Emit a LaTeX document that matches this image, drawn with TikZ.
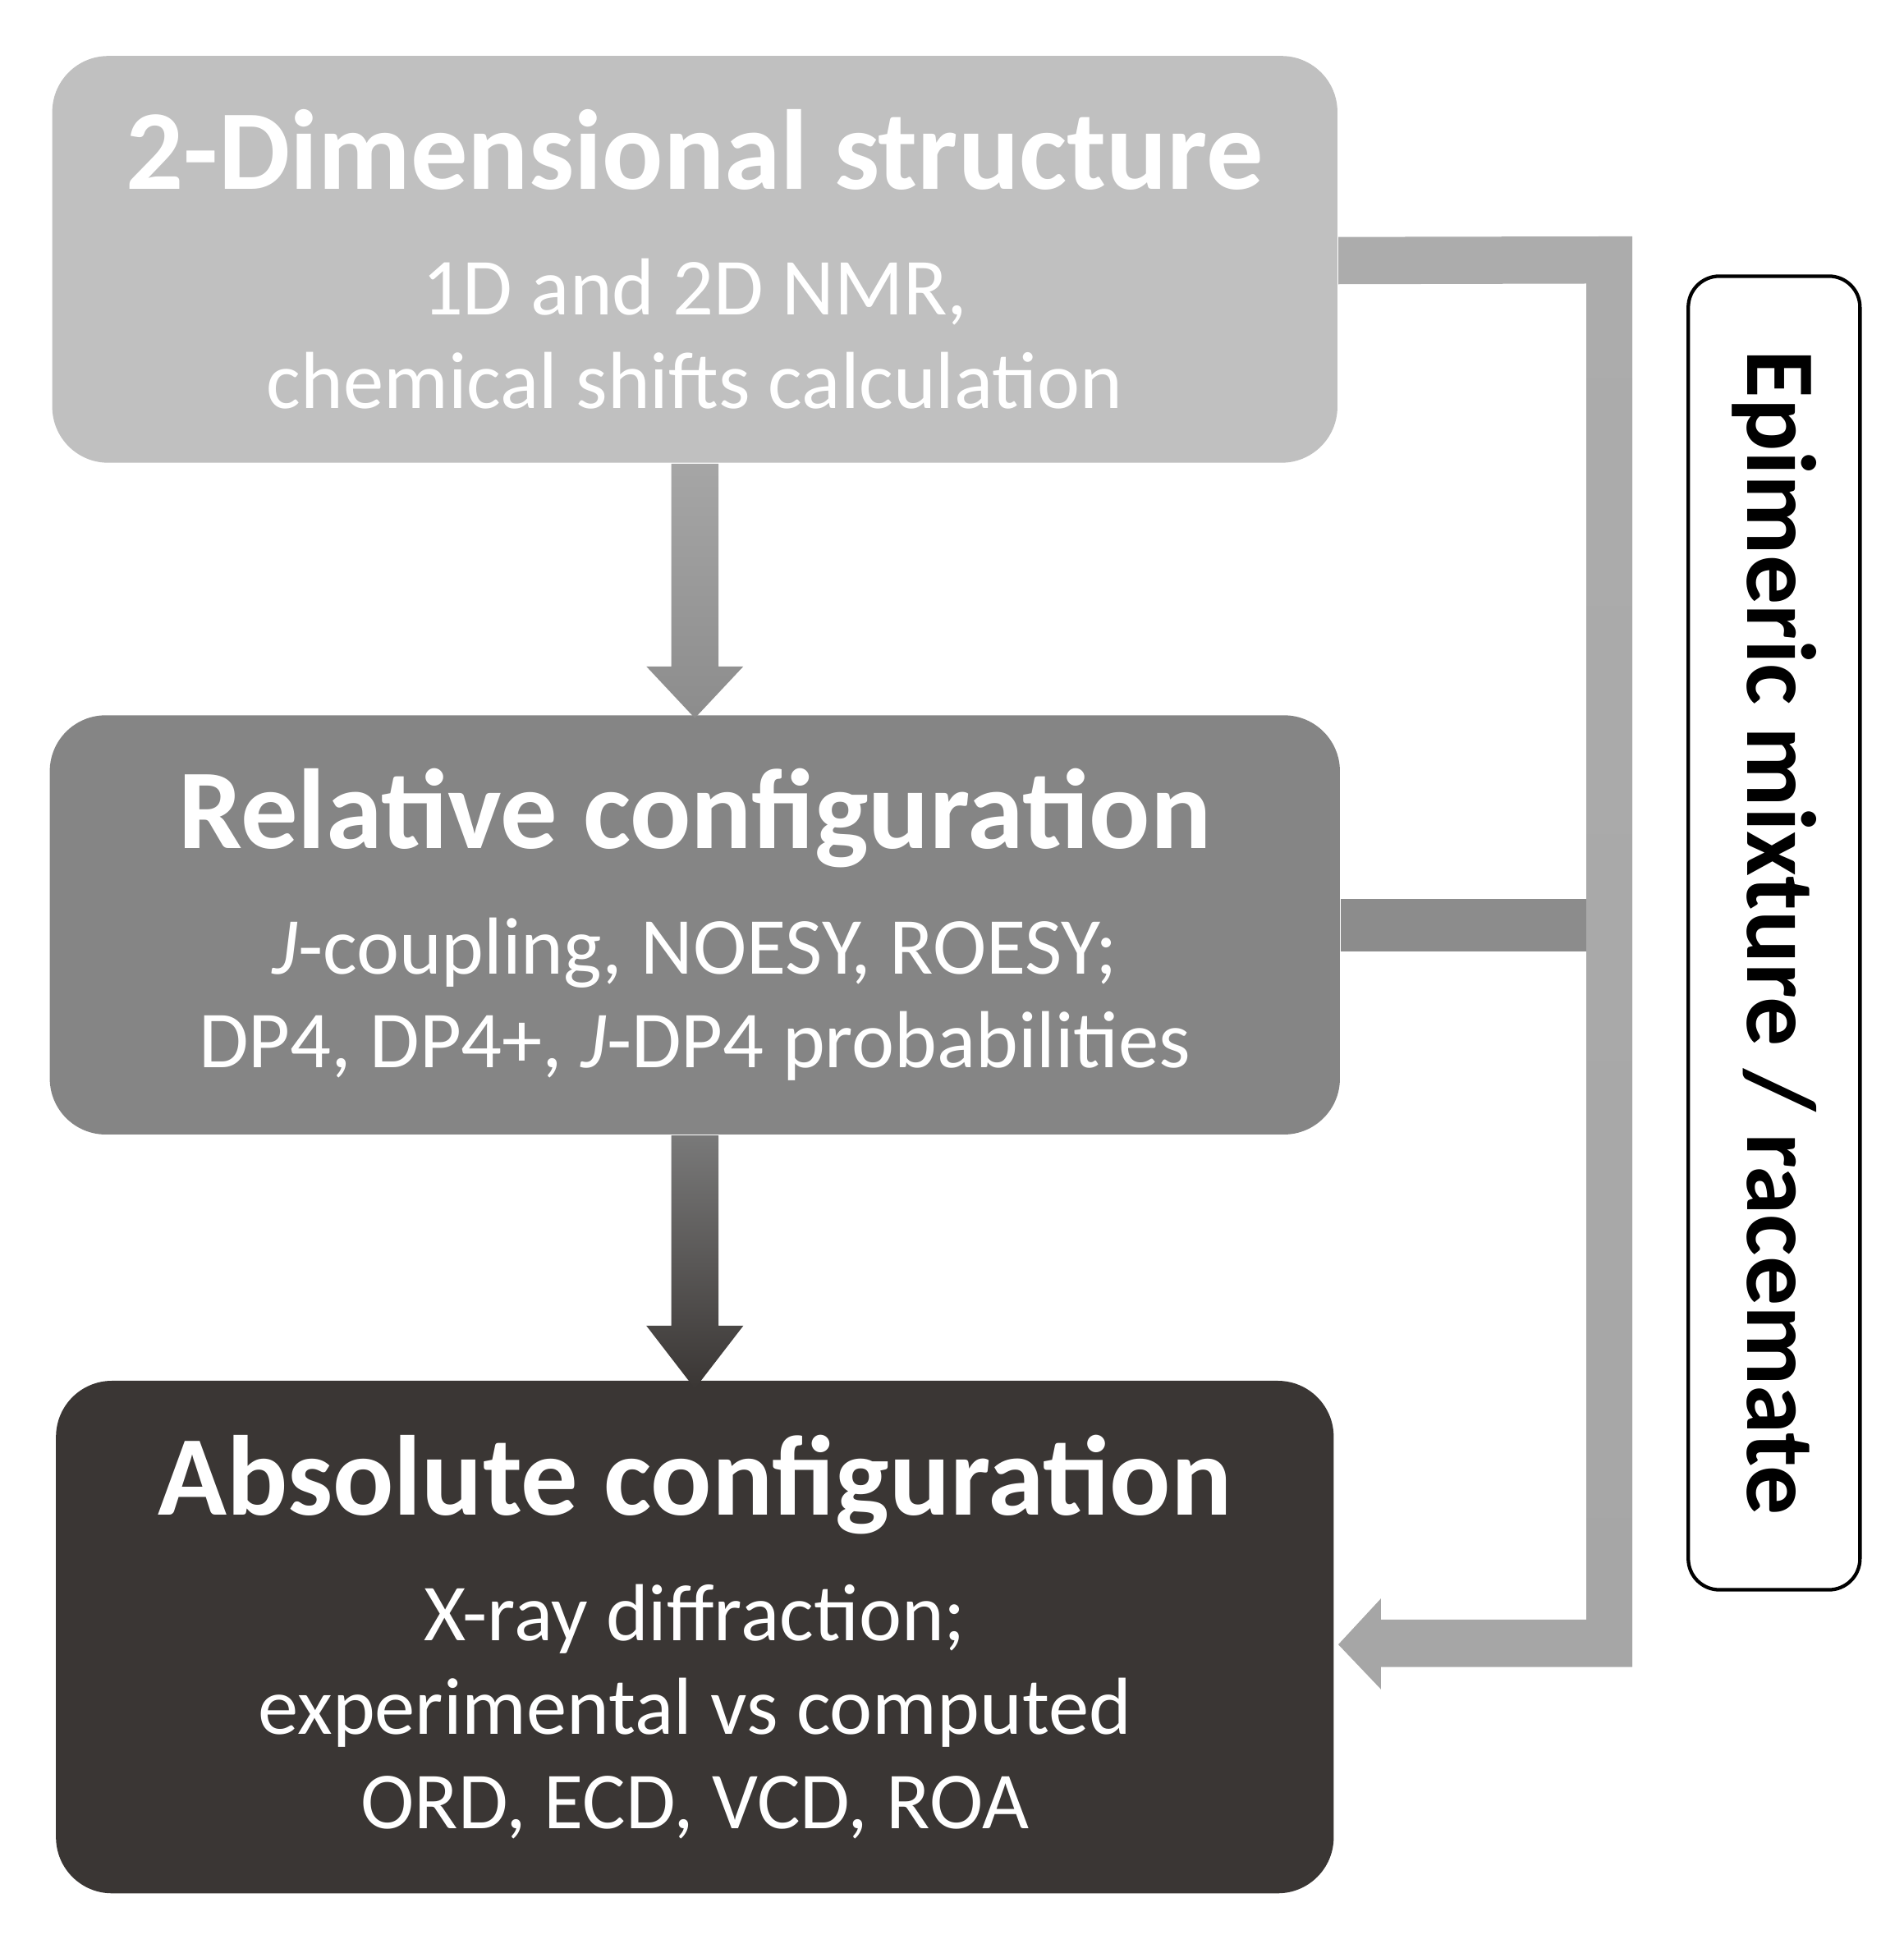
\documentclass[tikz,border=0pt]{standalone}
\usepackage{fontspec}
\setmainfont{Carlito}
\usetikzlibrary{calc}
\definecolor{boxlight}{HTML}{C0C0C0}
\definecolor{boxmid}{HTML}{858585}
\definecolor{boxdark}{HTML}{3A3634}
\tikzset{
  stage/.style={rounded corners=0.45cm, text=white, align=center, inner sep=0pt,
                font=\fontsize{18.5}{21.5}\selectfont}
}
\newcommand{\ttl}{\fontsize{26}{30}\selectfont\bfseries}
\begin{document}
\begin{tikzpicture}
    \useasboundingbox (0,0) rectangle (15.3,-15.7);

    % Stages
    \node[stage, fill=boxlight, minimum width=10.33cm, minimum height=3.27cm] (struct) at (5.585,-2.085)
         {{\ttl 2-Dimensional structure}\\[0.25cm]
          1D and 2D NMR,\\ chemical shifts calculation};
    \node[stage, fill=boxmid, minimum width=10.37cm, minimum height=3.37cm] (relconf) at (5.585,-7.435)
         {{\ttl Relative configuration}\\[0.25cm]
          \textit{J}-coupling, NOESY, ROESY;\\ DP4, DP4+, \textit{J}-DP4 probabilities};
    \node[stage, fill=boxdark, minimum width=10.27cm, minimum height=4.12cm] (absconf) at (5.585,-13.16)
         {{\ttl Absolute configuration}\\[0.25cm]
          X-ray diffraction;\\ experimental vs computed\\ ORD, ECD, VCD, ROA};

    % Side label
    \node[draw, rounded corners=0.25cm, line width=0.8pt, minimum width=1.38cm, minimum height=10.56cm] (side) at (14.26,-7.5) {};
    \node[rotate=-90, font=\fontsize{22.5}{26}\selectfont\bfseries] (sidetext) at (side.center) {Epimeric mixture / racemate};

    % Down arrows
    \shade[top color=gray!70, bottom color=gray!110!black] ($(struct.south)+(-0.19,0)$) -- ++(0,-1.63) -- ++(-0.2,0)
        -- ($(relconf.north)+(0,-0.03)$) -- ($(struct.south)+(0.39,-1.63)$) -- ++(-0.2,0) -- ($(struct.south)+(0.19,0)$) -- cycle;
    \shade[top color=gray!95!black, bottom color=boxdark] ($(relconf.south)+(-0.19,0)$) -- ++(0,-1.53) -- ++(-0.2,0)
        -- ($(absconf.north)+(0,-0.07)$) -- ($(relconf.south)+(0.39,-1.53)$) -- ++(-0.2,0) -- ($(relconf.south)+(0.19,0)$) -- cycle;

    % Side loop
    \coordinate (loopin) at ($(struct.east)+(0,0.18)$);
    \shade[top color=gray!65, bottom color=gray!130!black] (loopin) -- (13.12,-1.90) -- (13.12,-13.40) -- (11.10,-13.40)
        -- (11.10,-13.58) -- ($(absconf.east)+(0.03,-0.06)$) -- (11.10,-12.85) -- (11.10,-13.02) -- (12.75,-13.02)
        -- (12.75,-2.28) -- ($(struct.east)+(0,-0.20)$) -- cycle;
    \fill[gray!90] ($(relconf.east)+(0,0.21)$) rectangle (12.75,-7.65);
\end{tikzpicture}
\end{document}
